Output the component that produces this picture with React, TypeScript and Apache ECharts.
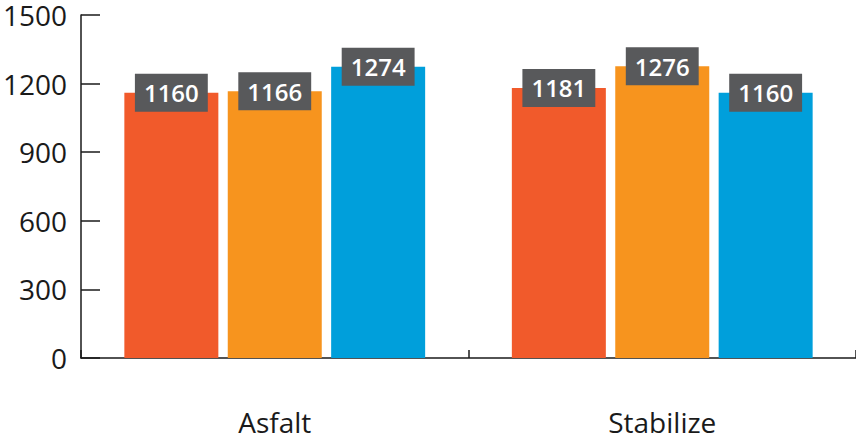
import React, { useEffect, useRef } from "react";
import * as echarts from "echarts";

const categories = ["Asfalt", "Stabilize"];
const seriesA = [1160, 1181];
const seriesB = [1166, 1276];
const seriesC = [1274, 1160];
const yTicks = { min: 0, max: 1500, interval: 300 };
const colors = ["#F15A2B", "#F7941E", "#009FDB"];

export default function App() {
  const ref = useRef<HTMLDivElement>(null);
  useEffect(() => {
    const chart = echarts.init(ref.current!, null, { renderer: "svg" });
    const label = {
      show: true,
      position: "top",
      distance: 0,
      color: "#ffffff",
      backgroundColor: "#58595B",
      fontFamily: "Open Sans",
      fontWeight: 600,
      fontSize: 24,
      lineHeight: 24,
      padding: [8, 9, 6, 9],
      align: "center",
      verticalAlign: "middle",
    };
    const mk = (data: number[], i: number) => ({
      type: "bar",
      data,
      barWidth: 94,
      barGap: "10%",
      itemStyle: { color: colors[i] },
      label,
    });
    chart.setOption({
      animation: false,
      grid: { left: 81, right: 0, top: 15, bottom: 88, outerBoundsMode: "none", containLabel: false },
      xAxis: {
        type: "category",
        data: categories,
        axisLine: { lineStyle: { color: "#1a1a1a", width: 1.5 } },
        axisTick: { show: true, inside: true, length: 8, lineStyle: { color: "#1a1a1a", width: 1.5 } },
        axisLabel: { color: "#1a1a1a", fontFamily: "Open Sans", fontSize: 28, margin: 50 },
      },
      yAxis: {
        type: "value",
        ...yTicks,
        splitLine: { show: false },
        axisLine: { show: true, lineStyle: { color: "#1a1a1a", width: 1.5 } },
        axisTick: { show: true, inside: true, length: 19, lineStyle: { color: "#1a1a1a", width: 1.5 } },
        axisLabel: {
          color: "#1a1a1a",
          fontFamily: "Open Sans",
          fontSize: 28,
          lineHeight: 28,
          margin: 14,
          formatter: (v: number) => String(v),
        },
      },
      series: [mk(seriesA, 0), mk(seriesB, 1), mk(seriesC, 2)],
    });
    return () => chart.dispose();
  }, []);
  return <div ref={ref} style={{ width: 856, height: 446, position: "absolute", left: 0, top: 0 }} />;
}
